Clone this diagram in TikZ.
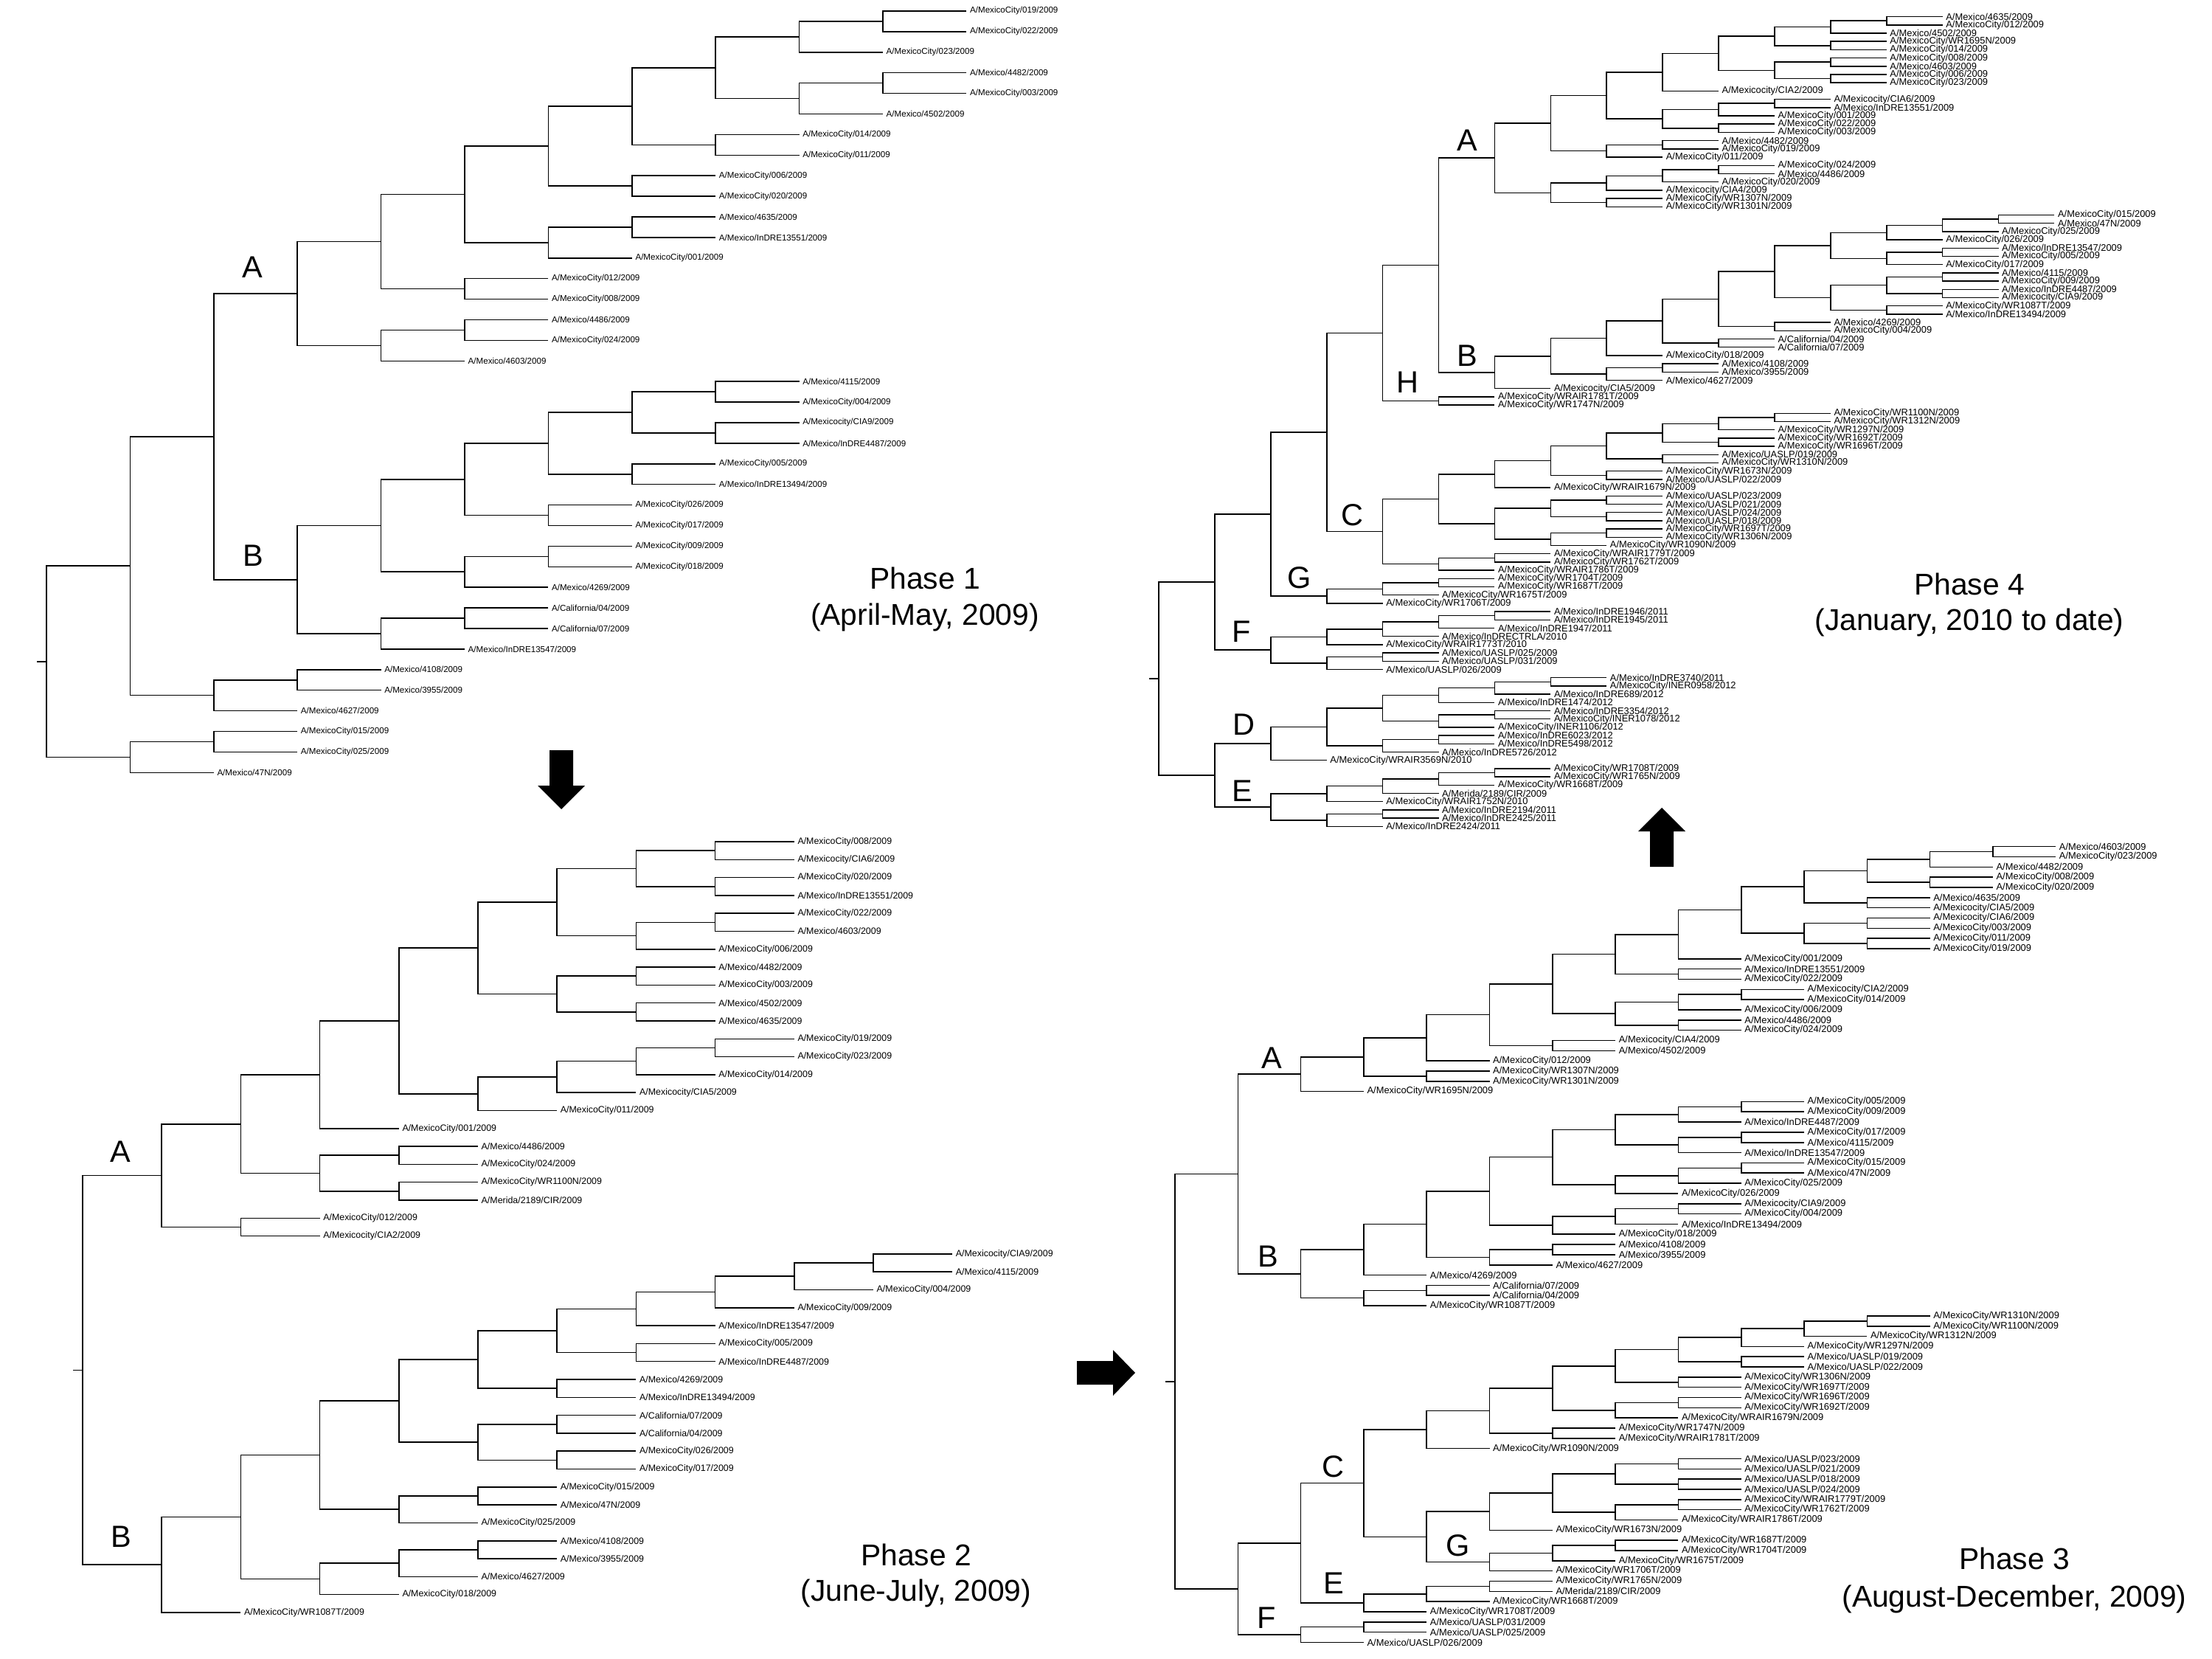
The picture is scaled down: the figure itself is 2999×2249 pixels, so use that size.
\documentclass[tikz,border=0pt]{standalone}
\usepackage{fontspec}
\setmainfont{Liberation Sans}
\usetikzlibrary{calc}

\tikzset{
    branch/.style = {line width = 0.45pt},
    tip/.style = {anchor = west, inner xsep = 0.04cm, inner ysep = 0pt, font = \fontsize{\tipsize}{\tipsize}\selectfont},
    cladename/.style = {anchor = base, inner sep = 0pt, font = \fontsize{11.8pt}{14pt}\selectfont},
    phase/.style = {anchor = base, inner sep = 0pt, font = \fontsize{11.6pt}{14pt}\selectfont},
    blockarrow/.style = {fill = black}
}

\newcommand{\leaf}[4]{%
    \coordinate (#1) at ({\xorg + #3 * \xstep}, {\yorg + #2 * \ystep});
    \node [tip] (#1t) at (#1) {#4};
}
\newcommand{\clade}[3]{%
    \coordinate (#1) at ($(#2)!0.5!(#3) + (-\xstep, 0)$);
    \draw [branch] (#2) -| (#1) |- (#3);
}
\newcommand{\stub}[1]{%
    \coordinate (#1s) at ($(#1) + (-13, 0)$);
    \draw [branch] (#1) -- (#1s);
}

\begin{document}
\begin{tikzpicture}[x = 0.01cm, y = -0.01cm]
    \useasboundingbox (0, 0) rectangle (2999, 2249);

    % Phase 1
    \def\xorg{63}\def\xstep{113.4}\def\yorg{15}\def\ystep{27.9}\def\tipsize{3.3pt}
    \leaf{aL0}{0}{11}{A/MexicoCity/019/2009}
    \leaf{aL1}{1}{11}{A/MexicoCity/022/2009}
    \leaf{aL2}{2}{10}{A/MexicoCity/023/2009}
    \leaf{aL3}{3}{11}{A/Mexico/4482/2009}
    \leaf{aL4}{4}{11}{A/MexicoCity/003/2009}
    \leaf{aL5}{5}{10}{A/Mexico/4502/2009}
    \leaf{aL6}{6}{9}{A/MexicoCity/014/2009}
    \leaf{aL7}{7}{9}{A/MexicoCity/011/2009}
    \leaf{aL8}{8}{8}{A/MexicoCity/006/2009}
    \leaf{aL9}{9}{8}{A/MexicoCity/020/2009}
    \leaf{aL10}{10}{8}{A/Mexico/4635/2009}
    \leaf{aL11}{11}{8}{A/Mexico/InDRE13551/2009}
    \leaf{aL12}{12}{7}{A/MexicoCity/001/2009}
    \leaf{aL13}{13}{6}{A/MexicoCity/012/2009}
    \leaf{aL14}{14}{6}{A/MexicoCity/008/2009}
    \leaf{aL15}{15}{6}{A/Mexico/4486/2009}
    \leaf{aL16}{16}{6}{A/MexicoCity/024/2009}
    \leaf{aL17}{17}{5}{A/Mexico/4603/2009}
    \leaf{aL18}{18}{9}{A/Mexico/4115/2009}
    \leaf{aL19}{19}{9}{A/MexicoCity/004/2009}
    \leaf{aL20}{20}{9}{A/Mexicocity/CIA9/2009}
    \leaf{aL21}{21}{9}{A/Mexico/InDRE4487/2009}
    \leaf{aL22}{22}{8}{A/MexicoCity/005/2009}
    \leaf{aL23}{23}{8}{A/Mexico/InDRE13494/2009}
    \leaf{aL24}{24}{7}{A/MexicoCity/026/2009}
    \leaf{aL25}{25}{7}{A/MexicoCity/017/2009}
    \leaf{aL26}{26}{7}{A/MexicoCity/009/2009}
    \leaf{aL27}{27}{7}{A/MexicoCity/018/2009}
    \leaf{aL28}{28}{6}{A/Mexico/4269/2009}
    \leaf{aL29}{29}{6}{A/California/04/2009}
    \leaf{aL30}{30}{6}{A/California/07/2009}
    \leaf{aL31}{31}{5}{A/Mexico/InDRE13547/2009}
    \leaf{aL32}{32}{4}{A/Mexico/4108/2009}
    \leaf{aL33}{33}{4}{A/Mexico/3955/2009}
    \leaf{aL34}{34}{3}{A/Mexico/4627/2009}
    \leaf{aL35}{35}{3}{A/MexicoCity/015/2009}
    \leaf{aL36}{36}{3}{A/MexicoCity/025/2009}
    \leaf{aL37}{37}{2}{A/Mexico/47N/2009}
    \clade{aN1}{aL0}{aL1}
    \clade{aN2}{aN1}{aL2}
    \clade{aN3}{aL3}{aL4}
    \clade{aN4}{aN3}{aL5}
    \clade{aN5}{aN2}{aN4}
    \clade{aN6}{aL6}{aL7}
    \clade{aN7}{aN5}{aN6}
    \clade{aN8}{aL8}{aL9}
    \clade{aN9}{aN7}{aN8}
    \clade{aN10}{aL10}{aL11}
    \clade{aN11}{aN10}{aL12}
    \clade{aN12}{aN9}{aN11}
    \clade{aN13}{aL13}{aL14}
    \clade{aN14}{aN12}{aN13}
    \clade{aN15}{aL15}{aL16}
    \clade{aN16}{aN15}{aL17}
    \clade{aN17}{aN14}{aN16}
    \clade{aN18}{aL18}{aL19}
    \clade{aN19}{aL20}{aL21}
    \clade{aN20}{aN18}{aN19}
    \clade{aN21}{aL22}{aL23}
    \clade{aN22}{aN20}{aN21}
    \clade{aN23}{aL24}{aL25}
    \clade{aN24}{aN22}{aN23}
    \clade{aN25}{aL26}{aL27}
    \clade{aN26}{aN25}{aL28}
    \clade{aN27}{aN24}{aN26}
    \clade{aN28}{aL29}{aL30}
    \clade{aN29}{aN28}{aL31}
    \clade{aN30}{aN27}{aN29}
    \clade{aN31}{aN17}{aN30}
    \clade{aN32}{aL32}{aL33}
    \clade{aN33}{aN32}{aL34}
    \clade{aN34}{aN31}{aN33}
    \clade{aN35}{aL35}{aL36}
    \clade{aN36}{aN35}{aL37}
    \clade{aN37}{aN34}{aN36}
    \stub{aN37}
    \node [cladename] (aA) at (342, 377) {A};
    \node [cladename] (aB) at (343, 768) {B};
    \node [phase] (aP) at (1254, 799) {Phase 1};
    \node [phase] (aPd) at (1254, 848) {(April-May, 2009)};

    % Phase 2
    \def\xorg{112}\def\xstep{107.2}\def\yorg{1141}\def\ystep{24.3}\def\tipsize{3.53pt}
    \leaf{bL0}{0}{9}{A/MexicoCity/008/2009}
    \leaf{bL1}{1}{9}{A/Mexicocity/CIA6/2009}
    \leaf{bL2}{2}{9}{A/MexicoCity/020/2009}
    \leaf{bL3}{3}{9}{A/Mexico/InDRE13551/2009}
    \leaf{bL4}{4}{9}{A/MexicoCity/022/2009}
    \leaf{bL5}{5}{9}{A/Mexico/4603/2009}
    \leaf{bL6}{6}{8}{A/MexicoCity/006/2009}
    \leaf{bL7}{7}{8}{A/Mexico/4482/2009}
    \leaf{bL8}{8}{8}{A/MexicoCity/003/2009}
    \leaf{bL9}{9}{8}{A/Mexico/4502/2009}
    \leaf{bL10}{10}{8}{A/Mexico/4635/2009}
    \leaf{bL11}{11}{9}{A/MexicoCity/019/2009}
    \leaf{bL12}{12}{9}{A/MexicoCity/023/2009}
    \leaf{bL13}{13}{8}{A/MexicoCity/014/2009}
    \leaf{bL14}{14}{7}{A/Mexicocity/CIA5/2009}
    \leaf{bL15}{15}{6}{A/MexicoCity/011/2009}
    \leaf{bL16}{16}{4}{A/MexicoCity/001/2009}
    \leaf{bL17}{17}{5}{A/Mexico/4486/2009}
    \leaf{bL18}{18}{5}{A/MexicoCity/024/2009}
    \leaf{bL19}{19}{5}{A/MexicoCity/WR1100N/2009}
    \leaf{bL20}{20}{5}{A/Merida/2189/CIR/2009}
    \leaf{bL21}{21}{3}{A/MexicoCity/012/2009}
    \leaf{bL22}{22}{3}{A/Mexicocity/CIA2/2009}
    \leaf{bL23}{23}{11}{A/Mexicocity/CIA9/2009}
    \leaf{bL24}{24}{11}{A/Mexico/4115/2009}
    \leaf{bL25}{25}{10}{A/MexicoCity/004/2009}
    \leaf{bL26}{26}{9}{A/MexicoCity/009/2009}
    \leaf{bL27}{27}{8}{A/Mexico/InDRE13547/2009}
    \leaf{bL28}{28}{8}{A/MexicoCity/005/2009}
    \leaf{bL29}{29}{8}{A/Mexico/InDRE4487/2009}
    \leaf{bL30}{30}{7}{A/Mexico/4269/2009}
    \leaf{bL31}{31}{7}{A/Mexico/InDRE13494/2009}
    \leaf{bL32}{32}{7}{A/California/07/2009}
    \leaf{bL33}{33}{7}{A/California/04/2009}
    \leaf{bL34}{34}{7}{A/MexicoCity/026/2009}
    \leaf{bL35}{35}{7}{A/MexicoCity/017/2009}
    \leaf{bL36}{36}{6}{A/MexicoCity/015/2009}
    \leaf{bL37}{37}{6}{A/Mexico/47N/2009}
    \leaf{bL38}{38}{5}{A/MexicoCity/025/2009}
    \leaf{bL39}{39}{6}{A/Mexico/4108/2009}
    \leaf{bL40}{40}{6}{A/Mexico/3955/2009}
    \leaf{bL41}{41}{5}{A/Mexico/4627/2009}
    \leaf{bL42}{42}{4}{A/MexicoCity/018/2009}
    \leaf{bL43}{43}{2}{A/MexicoCity/WR1087T/2009}
    \clade{bN1}{bL0}{bL1}
    \clade{bN2}{bL2}{bL3}
    \clade{bN3}{bN1}{bN2}
    \clade{bN4}{bL4}{bL5}
    \clade{bN5}{bN4}{bL6}
    \clade{bN6}{bN3}{bN5}
    \clade{bN7}{bL7}{bL8}
    \clade{bN8}{bL9}{bL10}
    \clade{bN9}{bN7}{bN8}
    \clade{bN10}{bN6}{bN9}
    \clade{bN11}{bL11}{bL12}
    \clade{bN12}{bN11}{bL13}
    \clade{bN13}{bN12}{bL14}
    \clade{bN14}{bN13}{bL15}
    \clade{bN15}{bN10}{bN14}
    \clade{bN16}{bN15}{bL16}
    \clade{bN17}{bL17}{bL18}
    \clade{bN18}{bL19}{bL20}
    \clade{bN19}{bN17}{bN18}
    \clade{bN20}{bN16}{bN19}
    \clade{bN21}{bL21}{bL22}
    \clade{bN22}{bN20}{bN21}
    \clade{bN23}{bL23}{bL24}
    \clade{bN24}{bN23}{bL25}
    \clade{bN25}{bN24}{bL26}
    \clade{bN26}{bN25}{bL27}
    \clade{bN27}{bL28}{bL29}
    \clade{bN28}{bN26}{bN27}
    \clade{bN29}{bL30}{bL31}
    \clade{bN30}{bN28}{bN29}
    \clade{bN31}{bL32}{bL33}
    \clade{bN32}{bL34}{bL35}
    \clade{bN33}{bN31}{bN32}
    \clade{bN34}{bN30}{bN33}
    \clade{bN35}{bL36}{bL37}
    \clade{bN36}{bN35}{bL38}
    \clade{bN37}{bN34}{bN36}
    \clade{bN38}{bL39}{bL40}
    \clade{bN39}{bN38}{bL41}
    \clade{bN40}{bN39}{bL42}
    \clade{bN41}{bN37}{bN40}
    \clade{bN42}{bN41}{bL43}
    \clade{bN43}{bN22}{bN42}
    \stub{bN43}
    \node [cladename] (bA) at (163, 1575) {A};
    \node [cladename] (bB) at (164, 2097) {B};
    \node [phase] (bP) at (1242, 2122) {Phase 2};
    \node [phase] (bPd) at (1242, 2170) {(June-July, 2009)};

    % Phase 3
    \def\xorg{1593}\def\xstep{85.3}\def\yorg{1147.7}\def\ystep{13.83}\def\tipsize{3.67pt}
    \leaf{cL0}{0}{14}{A/Mexico/4603/2009}
    \leaf{cL1}{1}{14}{A/MexicoCity/023/2009}
    \leaf{cL2}{2}{13}{A/Mexico/4482/2009}
    \leaf{cL3}{3}{13}{A/MexicoCity/008/2009}
    \leaf{cL4}{4}{13}{A/MexicoCity/020/2009}
    \leaf{cL5}{5}{12}{A/Mexico/4635/2009}
    \leaf{cL6}{6}{12}{A/Mexicocity/CIA5/2009}
    \leaf{cL7}{7}{12}{A/Mexicocity/CIA6/2009}
    \leaf{cL8}{8}{12}{A/MexicoCity/003/2009}
    \leaf{cL9}{9}{12}{A/MexicoCity/011/2009}
    \leaf{cL10}{10}{12}{A/MexicoCity/019/2009}
    \leaf{cL11}{11}{9}{A/MexicoCity/001/2009}
    \leaf{cL12}{12}{9}{A/Mexico/InDRE13551/2009}
    \leaf{cL13}{13}{9}{A/MexicoCity/022/2009}
    \leaf{cL14}{14}{10}{A/Mexicocity/CIA2/2009}
    \leaf{cL15}{15}{10}{A/MexicoCity/014/2009}
    \leaf{cL16}{16}{9}{A/MexicoCity/006/2009}
    \leaf{cL17}{17}{9}{A/Mexico/4486/2009}
    \leaf{cL18}{18}{9}{A/MexicoCity/024/2009}
    \leaf{cL19}{19}{7}{A/Mexicocity/CIA4/2009}
    \leaf{cL20}{20}{7}{A/Mexico/4502/2009}
    \leaf{cL21}{21}{5}{A/MexicoCity/012/2009}
    \leaf{cL22}{22}{5}{A/MexicoCity/WR1307N/2009}
    \leaf{cL23}{23}{5}{A/MexicoCity/WR1301N/2009}
    \leaf{cL24}{24}{3}{A/MexicoCity/WR1695N/2009}
    \leaf{cL25}{25}{10}{A/MexicoCity/005/2009}
    \leaf{cL26}{26}{10}{A/MexicoCity/009/2009}
    \leaf{cL27}{27}{9}{A/Mexico/InDRE4487/2009}
    \leaf{cL28}{28}{10}{A/MexicoCity/017/2009}
    \leaf{cL29}{29}{10}{A/Mexico/4115/2009}
    \leaf{cL30}{30}{9}{A/Mexico/InDRE13547/2009}
    \leaf{cL31}{31}{10}{A/MexicoCity/015/2009}
    \leaf{cL32}{32}{10}{A/Mexico/47N/2009}
    \leaf{cL33}{33}{9}{A/MexicoCity/025/2009}
    \leaf{cL34}{34}{8}{A/MexicoCity/026/2009}
    \leaf{cL35}{35}{9}{A/Mexicocity/CIA9/2009}
    \leaf{cL36}{36}{9}{A/MexicoCity/004/2009}
    \leaf{cL37}{37}{8}{A/Mexico/InDRE13494/2009}
    \leaf{cL38}{38}{7}{A/MexicoCity/018/2009}
    \leaf{cL39}{39}{7}{A/Mexico/4108/2009}
    \leaf{cL40}{40}{7}{A/Mexico/3955/2009}
    \leaf{cL41}{41}{6}{A/Mexico/4627/2009}
    \leaf{cL42}{42}{4}{A/Mexico/4269/2009}
    \leaf{cL43}{43}{5}{A/California/07/2009}
    \leaf{cL44}{44}{5}{A/California/04/2009}
    \leaf{cL45}{45}{4}{A/MexicoCity/WR1087T/2009}
    \leaf{cL46}{46}{12}{A/MexicoCity/WR1310N/2009}
    \leaf{cL47}{47}{12}{A/MexicoCity/WR1100N/2009}
    \leaf{cL48}{48}{11}{A/MexicoCity/WR1312N/2009}
    \leaf{cL49}{49}{10}{A/MexicoCity/WR1297N/2009}
    \leaf{cL50}{50}{10}{A/Mexico/UASLP/019/2009}
    \leaf{cL51}{51}{10}{A/Mexico/UASLP/022/2009}
    \leaf{cL52}{52}{9}{A/MexicoCity/WR1306N/2009}
    \leaf{cL53}{53}{9}{A/MexicoCity/WR1697T/2009}
    \leaf{cL54}{54}{9}{A/MexicoCity/WR1696T/2009}
    \leaf{cL55}{55}{9}{A/MexicoCity/WR1692T/2009}
    \leaf{cL56}{56}{8}{A/MexicoCity/WRAIR1679N/2009}
    \leaf{cL57}{57}{7}{A/MexicoCity/WR1747N/2009}
    \leaf{cL58}{58}{7}{A/MexicoCity/WRAIR1781T/2009}
    \leaf{cL59}{59}{5}{A/MexicoCity/WR1090N/2009}
    \leaf{cL60}{60}{9}{A/Mexico/UASLP/023/2009}
    \leaf{cL61}{61}{9}{A/Mexico/UASLP/021/2009}
    \leaf{cL62}{62}{9}{A/Mexico/UASLP/018/2009}
    \leaf{cL63}{63}{9}{A/Mexico/UASLP/024/2009}
    \leaf{cL64}{64}{9}{A/MexicoCity/WRAIR1779T/2009}
    \leaf{cL65}{65}{9}{A/MexicoCity/WR1762T/2009}
    \leaf{cL66}{66}{8}{A/MexicoCity/WRAIR1786T/2009}
    \leaf{cL67}{67}{6}{A/MexicoCity/WR1673N/2009}
    \leaf{cL68}{68}{8}{A/MexicoCity/WR1687T/2009}
    \leaf{cL69}{69}{8}{A/MexicoCity/WR1704T/2009}
    \leaf{cL70}{70}{7}{A/MexicoCity/WR1675T/2009}
    \leaf{cL71}{71}{6}{A/MexicoCity/WR1706T/2009}
    \leaf{cL72}{72}{6}{A/MexicoCity/WR1765N/2009}
    \leaf{cL73}{73}{6}{A/Merida/2189/CIR/2009}
    \leaf{cL74}{74}{5}{A/MexicoCity/WR1668T/2009}
    \leaf{cL75}{75}{4}{A/MexicoCity/WR1708T/2009}
    \leaf{cL76}{76}{4}{A/Mexico/UASLP/031/2009}
    \leaf{cL77}{77}{4}{A/Mexico/UASLP/025/2009}
    \leaf{cL78}{78}{3}{A/Mexico/UASLP/026/2009}
    \clade{cN1}{cL0}{cL1}
    \clade{cN2}{cN1}{cL2}
    \clade{cN3}{cL3}{cL4}
    \clade{cN4}{cN2}{cN3}
    \clade{cN5}{cL5}{cL6}
    \clade{cN6}{cN4}{cN5}
    \clade{cN7}{cL7}{cL8}
    \clade{cN8}{cL9}{cL10}
    \clade{cN9}{cN7}{cN8}
    \clade{cN10}{cN6}{cN9}
    \clade{cN11}{cN10}{cL11}
    \clade{cN12}{cL12}{cL13}
    \clade{cN13}{cN11}{cN12}
    \clade{cN14}{cL14}{cL15}
    \clade{cN15}{cN14}{cL16}
    \clade{cN16}{cL17}{cL18}
    \clade{cN17}{cN15}{cN16}
    \clade{cN18}{cN13}{cN17}
    \clade{cN19}{cL19}{cL20}
    \clade{cN20}{cN18}{cN19}
    \clade{cN21}{cN20}{cL21}
    \clade{cN22}{cL22}{cL23}
    \clade{cN23}{cN21}{cN22}
    \clade{cN24}{cN23}{cL24}
    \clade{cN25}{cL25}{cL26}
    \clade{cN26}{cN25}{cL27}
    \clade{cN27}{cL28}{cL29}
    \clade{cN28}{cN27}{cL30}
    \clade{cN29}{cN26}{cN28}
    \clade{cN30}{cL31}{cL32}
    \clade{cN31}{cN30}{cL33}
    \clade{cN32}{cN31}{cL34}
    \clade{cN33}{cN29}{cN32}
    \clade{cN34}{cL35}{cL36}
    \clade{cN35}{cN34}{cL37}
    \clade{cN36}{cN35}{cL38}
    \clade{cN37}{cN33}{cN36}
    \clade{cN38}{cL39}{cL40}
    \clade{cN39}{cN38}{cL41}
    \clade{cN40}{cN37}{cN39}
    \clade{cN41}{cN40}{cL42}
    \clade{cN42}{cL43}{cL44}
    \clade{cN43}{cN42}{cL45}
    \clade{cN44}{cN41}{cN43}
    \clade{cN45}{cN24}{cN44}
    \clade{cN46}{cL46}{cL47}
    \clade{cN47}{cN46}{cL48}
    \clade{cN48}{cN47}{cL49}
    \clade{cN49}{cL50}{cL51}
    \clade{cN50}{cN48}{cN49}
    \clade{cN51}{cL52}{cL53}
    \clade{cN52}{cN50}{cN51}
    \clade{cN53}{cL54}{cL55}
    \clade{cN54}{cN53}{cL56}
    \clade{cN55}{cN52}{cN54}
    \clade{cN56}{cL57}{cL58}
    \clade{cN57}{cN55}{cN56}
    \clade{cN58}{cN57}{cL59}
    \clade{cN59}{cL60}{cL61}
    \clade{cN60}{cL62}{cL63}
    \clade{cN61}{cN59}{cN60}
    \clade{cN62}{cL64}{cL65}
    \clade{cN63}{cN62}{cL66}
    \clade{cN64}{cN61}{cN63}
    \clade{cN65}{cN64}{cL67}
    \clade{cN66}{cL68}{cL69}
    \clade{cN67}{cN66}{cL70}
    \clade{cN68}{cN67}{cL71}
    \clade{cN69}{cN65}{cN68}
    \clade{cN70}{cN58}{cN69}
    \clade{cN71}{cL72}{cL73}
    \clade{cN72}{cN71}{cL74}
    \clade{cN73}{cN72}{cL75}
    \clade{cN74}{cN70}{cN73}
    \clade{cN75}{cL76}{cL77}
    \clade{cN76}{cN75}{cL78}
    \clade{cN77}{cN74}{cN76}
    \clade{cN78}{cN45}{cN77}
    \stub{cN78}
    \node [cladename] (cA) at (1724, 1448) {A};
    \node [cladename] (cB) at (1719, 1717) {B};
    \node [cladename] (cC) at (1807, 2002) {C};
    \node [cladename] (cG) at (1977, 2109) {G};
    \node [cladename] (cE) at (1808, 2160) {E};
    \node [cladename] (cF) at (1717, 2207) {F};
    \node [phase] (cP) at (2731, 2127) {Phase 3};
    \node [phase] (cPd) at (2731, 2178) {(August-December, 2009)};

    % Phase 4
    \def\xorg{1571}\def\xstep{75.9}\def\yorg{22.7}\def\ystep{11.2}\def\tipsize{3.67pt}
    \leaf{dL0}{0}{14}{A/Mexico/4635/2009}
    \leaf{dL1}{1}{14}{A/MexicoCity/012/2009}
    \leaf{dL2}{2}{13}{A/Mexico/4502/2009}
    \leaf{dL3}{3}{13}{A/MexicoCity/WR1695N/2009}
    \leaf{dL4}{4}{13}{A/MexicoCity/014/2009}
    \leaf{dL5}{5}{13}{A/MexicoCity/008/2009}
    \leaf{dL6}{6}{13}{A/Mexico/4603/2009}
    \leaf{dL7}{7}{13}{A/MexicoCity/006/2009}
    \leaf{dL8}{8}{13}{A/MexicoCity/023/2009}
    \leaf{dL9}{9}{10}{A/Mexicocity/CIA2/2009}
    \leaf{dL10}{10}{12}{A/Mexicocity/CIA6/2009}
    \leaf{dL11}{11}{12}{A/Mexico/InDRE13551/2009}
    \leaf{dL12}{12}{11}{A/MexicoCity/001/2009}
    \leaf{dL13}{13}{11}{A/MexicoCity/022/2009}
    \leaf{dL14}{14}{11}{A/MexicoCity/003/2009}
    \leaf{dL15}{15}{10}{A/Mexico/4482/2009}
    \leaf{dL16}{16}{10}{A/MexicoCity/019/2009}
    \leaf{dL17}{17}{9}{A/MexicoCity/011/2009}
    \leaf{dL18}{18}{11}{A/MexicoCity/024/2009}
    \leaf{dL19}{19}{11}{A/Mexico/4486/2009}
    \leaf{dL20}{20}{10}{A/MexicoCity/020/2009}
    \leaf{dL21}{21}{9}{A/Mexicocity/CIA4/2009}
    \leaf{dL22}{22}{9}{A/MexicoCity/WR1307N/2009}
    \leaf{dL23}{23}{9}{A/MexicoCity/WR1301N/2009}
    \leaf{dL24}{24}{16}{A/MexicoCity/015/2009}
    \leaf{dL25}{25}{16}{A/Mexico/47N/2009}
    \leaf{dL26}{26}{15}{A/MexicoCity/025/2009}
    \leaf{dL27}{27}{14}{A/MexicoCity/026/2009}
    \leaf{dL28}{28}{15}{A/Mexico/InDRE13547/2009}
    \leaf{dL29}{29}{15}{A/MexicoCity/005/2009}
    \leaf{dL30}{30}{14}{A/MexicoCity/017/2009}
    \leaf{dL31}{31}{15}{A/Mexico/4115/2009}
    \leaf{dL32}{32}{15}{A/MexicoCity/009/2009}
    \leaf{dL33}{33}{15}{A/Mexico/InDRE4487/2009}
    \leaf{dL34}{34}{15}{A/Mexicocity/CIA9/2009}
    \leaf{dL35}{35}{14}{A/MexicoCity/WR1087T/2009}
    \leaf{dL36}{36}{14}{A/Mexico/InDRE13494/2009}
    \leaf{dL37}{37}{12}{A/Mexico/4269/2009}
    \leaf{dL38}{38}{12}{A/MexicoCity/004/2009}
    \leaf{dL39}{39}{11}{A/California/04/2009}
    \leaf{dL40}{40}{11}{A/California/07/2009}
    \leaf{dL41}{41}{9}{A/MexicoCity/018/2009}
    \leaf{dL42}{42}{10}{A/Mexico/4108/2009}
    \leaf{dL43}{43}{10}{A/Mexico/3955/2009}
    \leaf{dL44}{44}{9}{A/Mexico/4627/2009}
    \leaf{dL45}{45}{7}{A/Mexicocity/CIA5/2009}
    \leaf{dL46}{46}{6}{A/MexicoCity/WRAIR1781T/2009}
    \leaf{dL47}{47}{6}{A/MexicoCity/WR1747N/2009}
    \leaf{dL48}{48}{12}{A/MexicoCity/WR1100N/2009}
    \leaf{dL49}{49}{12}{A/MexicoCity/WR1312N/2009}
    \leaf{dL50}{50}{11}{A/MexicoCity/WR1297N/2009}
    \leaf{dL51}{51}{11}{A/MexicoCity/WR1692T/2009}
    \leaf{dL52}{52}{11}{A/MexicoCity/WR1696T/2009}
    \leaf{dL53}{53}{10}{A/Mexico/UASLP/019/2009}
    \leaf{dL54}{54}{10}{A/MexicoCity/WR1310N/2009}
    \leaf{dL55}{55}{9}{A/MexicoCity/WR1673N/2009}
    \leaf{dL56}{56}{9}{A/Mexico/UASLP/022/2009}
    \leaf{dL57}{57}{7}{A/MexicoCity/WRAIR1679N/2009}
    \leaf{dL58}{58}{9}{A/Mexico/UASLP/023/2009}
    \leaf{dL59}{59}{9}{A/Mexico/UASLP/021/2009}
    \leaf{dL60}{60}{9}{A/Mexico/UASLP/024/2009}
    \leaf{dL61}{61}{9}{A/Mexico/UASLP/018/2009}
    \leaf{dL62}{62}{9}{A/MexicoCity/WR1697T/2009}
    \leaf{dL63}{63}{9}{A/MexicoCity/WR1306N/2009}
    \leaf{dL64}{64}{8}{A/MexicoCity/WR1090N/2009}
    \leaf{dL65}{65}{7}{A/MexicoCity/WRAIR1779T/2009}
    \leaf{dL66}{66}{7}{A/MexicoCity/WR1762T/2009}
    \leaf{dL67}{67}{6}{A/MexicoCity/WRAIR1786T/2009}
    \leaf{dL68}{68}{6}{A/MexicoCity/WR1704T/2009}
    \leaf{dL69}{69}{6}{A/MexicoCity/WR1687T/2009}
    \leaf{dL70}{70}{5}{A/MexicoCity/WR1675T/2009}
    \leaf{dL71}{71}{4}{A/MexicoCity/WR1706T/2009}
    \leaf{dL72}{72}{7}{A/Mexico/InDRE1946/2011}
    \leaf{dL73}{73}{7}{A/Mexico/InDRE1945/2011}
    \leaf{dL74}{74}{6}{A/Mexico/InDRE1947/2011}
    \leaf{dL75}{75}{5}{A/Mexico/InDRECTRLA/2010}
    \leaf{dL76}{76}{4}{A/MexicoCity/WRAIR1773T/2010}
    \leaf{dL77}{77}{5}{A/Mexico/UASLP/025/2009}
    \leaf{dL78}{78}{5}{A/Mexico/UASLP/031/2009}
    \leaf{dL79}{79}{4}{A/Mexico/UASLP/026/2009}
    \leaf{dL80}{80}{8}{A/Mexico/InDRE3740/2011}
    \leaf{dL81}{81}{8}{A/MexicoCity/INER0958/2012}
    \leaf{dL82}{82}{7}{A/Mexico/InDRE689/2012}
    \leaf{dL83}{83}{6}{A/Mexico/InDRE1474/2012}
    \leaf{dL84}{84}{7}{A/Mexico/InDRE3354/2012}
    \leaf{dL85}{85}{7}{A/MexicoCity/INER1078/2012}
    \leaf{dL86}{86}{6}{A/MexicoCity/INER1106/2012}
    \leaf{dL87}{87}{6}{A/Mexico/InDRE6023/2012}
    \leaf{dL88}{88}{6}{A/Mexico/InDRE5498/2012}
    \leaf{dL89}{89}{5}{A/Mexico/InDRE5726/2012}
    \leaf{dL90}{90}{3}{A/MexicoCity/WRAIR3569N/2010}
    \leaf{dL91}{91}{7}{A/MexicoCity/WR1708T/2009}
    \leaf{dL92}{92}{7}{A/MexicoCity/WR1765N/2009}
    \leaf{dL93}{93}{6}{A/MexicoCity/WR1668T/2009}
    \leaf{dL94}{94}{5}{A/Merida/2189/CIR/2009}
    \leaf{dL95}{95}{4}{A/MexicoCity/WRAIR1752N/2010}
    \leaf{dL96}{96}{5}{A/Mexico/InDRE2194/2011}
    \leaf{dL97}{97}{5}{A/Mexico/InDRE2425/2011}
    \leaf{dL98}{98}{4}{A/Mexico/InDRE2424/2011}
    \clade{dN1}{dL0}{dL1}
    \clade{dN2}{dN1}{dL2}
    \clade{dN3}{dL3}{dL4}
    \clade{dN4}{dN2}{dN3}
    \clade{dN5}{dL5}{dL6}
    \clade{dN6}{dL7}{dL8}
    \clade{dN7}{dN5}{dN6}
    \clade{dN8}{dN4}{dN7}
    \clade{dN9}{dN8}{dL9}
    \clade{dN10}{dL10}{dL11}
    \clade{dN11}{dN10}{dL12}
    \clade{dN12}{dL13}{dL14}
    \clade{dN13}{dN11}{dN12}
    \clade{dN14}{dN9}{dN13}
    \clade{dN15}{dL15}{dL16}
    \clade{dN16}{dN15}{dL17}
    \clade{dN17}{dN14}{dN16}
    \clade{dN18}{dL18}{dL19}
    \clade{dN19}{dN18}{dL20}
    \clade{dN20}{dN19}{dL21}
    \clade{dN21}{dL22}{dL23}
    \clade{dN22}{dN20}{dN21}
    \clade{dN23}{dN17}{dN22}
    \clade{dN24}{dL24}{dL25}
    \clade{dN25}{dN24}{dL26}
    \clade{dN26}{dN25}{dL27}
    \clade{dN27}{dL28}{dL29}
    \clade{dN28}{dN27}{dL30}
    \clade{dN29}{dN26}{dN28}
    \clade{dN30}{dL31}{dL32}
    \clade{dN31}{dL33}{dL34}
    \clade{dN32}{dN30}{dN31}
    \clade{dN33}{dL35}{dL36}
    \clade{dN34}{dN32}{dN33}
    \clade{dN35}{dN29}{dN34}
    \clade{dN36}{dL37}{dL38}
    \clade{dN37}{dN35}{dN36}
    \clade{dN38}{dL39}{dL40}
    \clade{dN39}{dN37}{dN38}
    \clade{dN40}{dN39}{dL41}
    \clade{dN41}{dL42}{dL43}
    \clade{dN42}{dN41}{dL44}
    \clade{dN43}{dN40}{dN42}
    \clade{dN44}{dN43}{dL45}
    \clade{dN45}{dN23}{dN44}
    \clade{dN46}{dL46}{dL47}
    \clade{dN47}{dN45}{dN46}
    \clade{dN48}{dL48}{dL49}
    \clade{dN49}{dN48}{dL50}
    \clade{dN50}{dL51}{dL52}
    \clade{dN51}{dN49}{dN50}
    \clade{dN52}{dL53}{dL54}
    \clade{dN53}{dN51}{dN52}
    \clade{dN54}{dL55}{dL56}
    \clade{dN55}{dN53}{dN54}
    \clade{dN56}{dN55}{dL57}
    \clade{dN57}{dL58}{dL59}
    \clade{dN58}{dL60}{dL61}
    \clade{dN59}{dN57}{dN58}
    \clade{dN60}{dL62}{dL63}
    \clade{dN61}{dN60}{dL64}
    \clade{dN62}{dN59}{dN61}
    \clade{dN63}{dN56}{dN62}
    \clade{dN64}{dL65}{dL66}
    \clade{dN65}{dN64}{dL67}
    \clade{dN66}{dN63}{dN65}
    \clade{dN67}{dN47}{dN66}
    \clade{dN68}{dL68}{dL69}
    \clade{dN69}{dN68}{dL70}
    \clade{dN70}{dN69}{dL71}
    \clade{dN71}{dN67}{dN70}
    \clade{dN72}{dL72}{dL73}
    \clade{dN73}{dN72}{dL74}
    \clade{dN74}{dN73}{dL75}
    \clade{dN75}{dN74}{dL76}
    \clade{dN76}{dL77}{dL78}
    \clade{dN77}{dN76}{dL79}
    \clade{dN78}{dN75}{dN77}
    \clade{dN79}{dN71}{dN78}
    \clade{dN80}{dL80}{dL81}
    \clade{dN81}{dN80}{dL82}
    \clade{dN82}{dN81}{dL83}
    \clade{dN83}{dL84}{dL85}
    \clade{dN84}{dN83}{dL86}
    \clade{dN85}{dN82}{dN84}
    \clade{dN86}{dL87}{dL88}
    \clade{dN87}{dN86}{dL89}
    \clade{dN88}{dN85}{dN87}
    \clade{dN89}{dN88}{dL90}
    \clade{dN90}{dL91}{dL92}
    \clade{dN91}{dN90}{dL93}
    \clade{dN92}{dN91}{dL94}
    \clade{dN93}{dN92}{dL95}
    \clade{dN94}{dL96}{dL97}
    \clade{dN95}{dN94}{dL98}
    \clade{dN96}{dN93}{dN95}
    \clade{dN97}{dN89}{dN96}
    \clade{dN98}{dN79}{dN97}
    \stub{dN98}
    \node [cladename] (dA) at (1989, 205) {A};
    \node [cladename] (dB) at (1989, 497) {B};
    \node [cladename] (dH) at (1908, 533) {H};
    \node [cladename] (dC) at (1833, 713) {C};
    \node [cladename] (dG) at (1762, 798) {G};
    \node [cladename] (dF) at (1683, 870) {F};
    \node [cladename] (dD) at (1686, 997) {D};
    \node [cladename] (dE) at (1684, 1086) {E};
    \node [phase] (dP) at (2670, 807) {Phase 4};
    \node [phase] (dPd) at (2670, 855) {(January, 2010 to date)};

    % arrows between the phases
    \fill [blockarrow] (745, 1017) -- (777, 1017) -- (777, 1065) -- (793, 1065) -- (761, 1097) -- (729, 1065) -- (745, 1065) -- cycle;
    \fill [blockarrow] (1460, 1845) -- (1509, 1845) -- (1509, 1830) -- (1539, 1861) -- (1509, 1892) -- (1509, 1877) -- (1460, 1877) -- cycle;
    \fill [blockarrow] (2237, 1175) -- (2237, 1127) -- (2221, 1127) -- (2253, 1095) -- (2285, 1127) -- (2269, 1127) -- (2269, 1175) -- cycle;
\end{tikzpicture}
\end{document}
